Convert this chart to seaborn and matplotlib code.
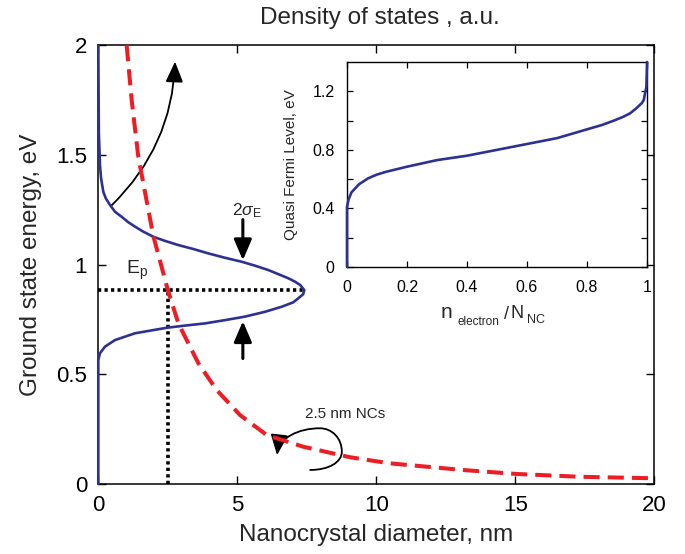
import matplotlib
matplotlib.use('Agg')
import matplotlib.pyplot as plt
import seaborn as sns
from matplotlib.patches import FancyArrowPatch
from matplotlib.path import Path

# Gaussian-like density of states (a.u.) vs energy (eV)
dos_energy = [0.0, 0.565, 0.596, 0.626, 0.656, 0.687, 0.712, 0.722, 0.732, 0.747,
              0.763, 0.785, 0.808, 0.828, 0.846, 0.865, 0.884, 0.907, 0.922, 0.938,
              0.975, 0.995, 1.013, 1.031, 1.051, 1.071, 1.089, 1.108, 1.127, 1.150,
              1.173, 1.193, 1.218, 1.241, 1.272, 1.302, 1.332, 1.393, 1.454, 1.6, 2.0]
dos_value = [0.0, 0.0, 0.06, 0.24, 0.60, 1.32, 2.46, 3.12, 3.84, 4.56,
             5.28, 6.0, 6.60, 7.01, 7.19, 7.37, 7.41, 7.26, 7.08, 6.83,
             6.12, 5.64, 5.16, 4.56, 3.96, 3.42, 2.88, 2.40, 1.98, 1.62,
             1.32, 1.08, 0.84, 0.60, 0.42, 0.27, 0.18, 0.10, 0.06, 0.02, 0.0]

# ground state energy vs nanocrystal diameter
diameter_nm = [1.02, 1.2, 1.44, 1.98, 2.5, 2.88, 3.18, 3.6, 4.26, 5.1, 6.06, 7.37,
               9.05, 10.5, 13.1, 15.0, 17.3, 20.0]
ground_energy = [2.0, 1.75, 1.49, 1.13, 0.885, 0.732, 0.656, 0.55, 0.428, 0.314, 0.223,
                 0.170, 0.122, 0.094, 0.064, 0.046, 0.033, 0.026]

# Ep marker (2.5 nm NCs)
ep_diameter = 2.5
ep_energy = 0.885
dos_peak = 7.41

# inset: quasi Fermi level vs filling fraction
fill_frac = [0.0, 0.0, 0.005, 0.015, 0.04, 0.07, 0.098, 0.13, 0.2, 0.3, 0.4, 0.5,
             0.6, 0.7, 0.8, 0.85, 0.89, 0.92, 0.944, 0.965, 0.983, 0.989, 0.998, 1.0]
fermi_level = [0.0, 0.41, 0.46, 0.51, 0.565, 0.605, 0.63, 0.65, 0.685, 0.73, 0.76, 0.80,
               0.84, 0.88, 0.94, 0.97, 1.0, 1.025, 1.05, 1.085, 1.12, 1.14, 1.23, 1.4]

main_xticks = [0, 5, 10, 15, 20]
main_yticks = [0, 0.5, 1, 1.5, 2]
main_ylabels = ['0', '0.5', '1', '1.5', '2']
inset_xticks = [0, 0.2, 0.4, 0.6, 0.8, 1.0]
inset_xlabels = ['0', '0.2', '0.4', '0.6', '0.8', '1']
inset_yticks = [0, 0.2, 0.4, 0.6, 0.8, 1.0, 1.2]
inset_ylabels = ['0', '', '0.4', '', '0.8', '', '1.2']

BLUE = '#2d3192'
RED = '#ee1d24'
W, H = 685, 554

sns.set_style('ticks')
plt.rcParams['font.family'] = ['Liberation Sans', 'DejaVu Sans']
plt.rcParams['mathtext.fontset'] = 'custom'
plt.rcParams['mathtext.rm'] = 'Liberation Sans'
plt.rcParams['mathtext.it'] = 'Liberation Sans:italic'


def fxy(px, py):
    return px / W, 1 - py / H


fig = plt.figure(figsize=(W / 100, H / 100), dpi=100)
ax = fig.add_axes([98.3 / W, 1 - 484 / H, (654.3 - 98.3) / W, (484 - 45.2) / H])

sns.lineplot(x=diameter_nm, y=ground_energy, ax=ax, color=RED, lw=2.9,
             sort=False, estimator=None, zorder=4)
ax.lines[-1].set_dashes((4, 2))
ax.lines[-1].set_dash_capstyle('butt')

sns.lineplot(x=dos_value, y=dos_energy, ax=ax, color=BLUE, lw=1.9,
             sort=False, estimator=None, zorder=3)
ax.lines[-1].set_clip_on(False)

# dotted Ep guides
sns.lineplot(x=[0, dos_peak], y=[ep_energy, ep_energy], ax=ax, color='black', lw=2.6,
             sort=False, estimator=None, zorder=2)
ax.lines[-1].set_dashes((0.9, 0.9))
sns.lineplot(x=[ep_diameter, ep_diameter], y=[0, ep_energy], ax=ax, color='black', lw=2.6,
             sort=False, estimator=None, zorder=2)
ax.lines[-1].set_dashes((0.9, 0.9))

ax.set_xlim(0, 20)
ax.set_ylim(0, 2)
ax.set_xticks(main_xticks)
ax.set_yticks(main_yticks)
ax.set_yticklabels(main_ylabels)
ax.tick_params(direction='in', length=6, width=1, labelsize=16, pad=8,
               top=True, right=True, colors='black')
ax.set_xlabel('Nanocrystal diameter, nm', fontsize=17.5, labelpad=6)
ax.set_ylabel('Ground state energy, eV', fontsize=17.5, labelpad=10)
for s in ax.spines.values():
    s.set_linewidth(1.1)
    s.set_color('black')

fig.text(*fxy(380, 18), 'Density of states , a.u.', fontsize=17.5, ha='center', va='center')

# annotations
ax.text(1.0, 0.955, r'E$_\mathregular{p}$', fontsize=14, ha='left', va='baseline')
ax.text(4.8, 1.225, r'$\mathregular{2}\sigma_{\mathregular{E}}$', fontsize=12.5,
        ha='left', va='baseline')
ax.text(7.45, 0.30, '2.5 nm NCs', fontsize=11, ha='left', va='baseline')

arrow_kw = dict(arrowstyle='-|>,head_length=0.7,head_width=0.3', mutation_scale=18,
                color='black', lw=2.2, shrinkA=0, shrinkB=0)
ax.add_patch(FancyArrowPatch((5.2, 1.205), (5.2, 1.02), **arrow_kw))
ax.add_patch(FancyArrowPatch((5.2, 0.572), (5.2, 0.742), **arrow_kw))

curve_kw = dict(arrowstyle='-|>,head_length=0.7,head_width=0.3', mutation_scale=18,
                color='black', lw=1.3, shrinkA=0, shrinkB=0)
ax.add_patch(FancyArrowPatch((0.48, 1.27), (2.76, 1.925),
                             connectionstyle='arc3,rad=0.2', **curve_kw))

loop = Path([(7.62, 0.064), (8.3, 0.064), (8.76, 0.10), (8.76, 0.147),
             (8.76, 0.21), (8.4, 0.254), (7.97, 0.254),
             (7.2, 0.254), (6.5, 0.21), (6.43, 0.132)],
            [Path.MOVETO] + [Path.CURVE4] * 9)
ax.add_patch(FancyArrowPatch(path=loop, **curve_kw))

# inset
ax_in = fig.add_axes([347 / W, 1 - 267 / H, (647 - 347) / W, (267 - 62) / H])
sns.lineplot(x=fill_frac, y=fermi_level, ax=ax_in, color=BLUE, lw=1.9,
             sort=False, estimator=None, zorder=3)
ax_in.lines[-1].set_clip_on(False)
ax_in.set_xlim(0, 1)
ax_in.set_ylim(0, 1.4)
ax_in.set_xticks(inset_xticks)
ax_in.set_xticklabels(inset_xlabels)
ax_in.set_yticks(inset_yticks)
ax_in.set_yticklabels(inset_ylabels)
ax_in.tick_params(direction='in', length=4, width=0.9, labelsize=11.5, pad=9,
                  top=True, right=True, colors='black')
ax_in.set_ylabel('Quasi Fermi Level, eV', fontsize=11, labelpad=10)
for s in ax_in.spines.values():
    s.set_linewidth(1.0)
    s.set_color('black')

# inset x label built from pieces (small subscripts)
fig.text(*fxy(441, 318), 'n', fontsize=15, ha='left', va='baseline')
fig.text(*fxy(457, 325), 'electron', fontsize=8.5, ha='left', va='baseline')
fig.text(*fxy(504, 319), '/', fontsize=13, ha='left', va='baseline')
fig.text(*fxy(511, 318), 'N', fontsize=13, ha='left', va='baseline')
fig.text(*fxy(527, 323), 'NC', fontsize=9, ha='left', va='baseline')

fig.savefig('out.png', dpi=100)
